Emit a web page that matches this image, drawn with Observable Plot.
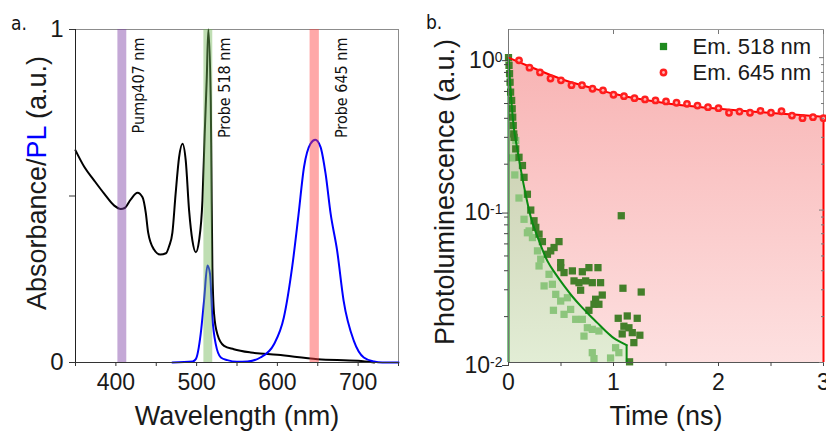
<!DOCTYPE html>
<html><head><meta charset="utf-8">
<script src="https://cdn.jsdelivr.net/npm/d3@7"></script>
<script src="https://cdn.jsdelivr.net/npm/@observablehq/plot@0.6"></script>
<style>
body{margin:0;background:#fff;}
#wrap{position:relative;width:826px;height:436px;overflow:hidden;background:#fff;}
#a{position:absolute;top:0;left:0;width:420px;height:436px;}
#b{position:absolute;top:0;left:420px;width:406px;height:436px;}
#a svg,#b svg{display:block;overflow:visible;}
.plabel{position:absolute;font-family:"Liberation Sans Narrow","DejaVu Sans Condensed",sans-serif;font-size:19px;color:#111;line-height:22px;}
</style></head><body>
<div id="wrap">
<div id="a"></div><div id="b"></div>
<div class="plabel" style="left:11px;top:12px">a.</div>
<div class="plabel" style="left:426px;top:11px">b.</div>
</div>
<script>
// ---------- Panel a data ----------
const absWavelength = [350, 361, 373, 385.5, 398, 406, 411, 418.5, 426.8, 433, 437, 440, 447, 455, 462, 466, 470, 474, 478.3, 482.5, 486.5, 490.7, 494.8, 499, 503, 507.2, 510, 512.5, 514.5, 517.5, 518.3, 519.5, 521.6, 525.7, 534, 546, 567, 600, 650, 700, 720];
const absorbance    = [0.637, 0.587, 0.547, 0.507, 0.471, 0.461, 0.464, 0.49, 0.51, 0.496, 0.45, 0.39, 0.34, 0.324, 0.328, 0.35, 0.39, 0.507, 0.617, 0.657, 0.607, 0.456, 0.366, 0.331, 0.366, 0.486, 0.687, 0.85, 1.0, 0.787, 0.587, 0.286, 0.146, 0.085, 0.050, 0.040, 0.030, 0.023, 0.010, 0.005, 0.0];
const plWavelength  = [470, 495, 499, 505, 509.2, 513.4, 516.6, 519.5, 523.7, 530, 538, 550, 563, 579, 595.8, 608, 618.5, 626, 633, 641, 647, 653.5, 659.7, 666, 674, 682, 694.7, 707, 719.5, 730, 750];
const plIntensity   = [0, 0.003, 0.01, 0.085, 0.186, 0.291, 0.266, 0.135, 0.055, 0.015, 0.007, 0.002, 0.003, 0.015, 0.055, 0.135, 0.29, 0.44, 0.587, 0.657, 0.669, 0.647, 0.567, 0.446, 0.336, 0.186, 0.065, 0.015, 0.003, 0, 0];
const bandStart = [402.5, 509, 640.5];
const bandEnd   = [413.5, 520, 652];
const bandNames = ["Pump407 nm", "Probe 518 nm", "Probe 645 nm"];
const xDomainA = [350, 750];
const yDomainA = [0, 1];
const xTicksA = [400, 500, 600, 700];
const xMinorA = [350, 450, 550, 650, 750];
const yTicksA = [0, 1];
const yMinorA = [0.5];
const xLabelA = "Wavelength (nm)";
const yLabelA = "Absorbance/PL (a.u.)";

// ---------- Panel b data ----------
const redT = [0.1,0.2,0.3,0.4,0.5,0.6,0.7,0.8,0.9,1.0,1.1,1.2,1.3,1.4,1.5,1.6,1.7,1.8,1.9,2.0,2.1,2.2,2.3,2.4,2.5,2.6,2.7,2.8,2.9,3.0];
const redV = [0.96,0.86,0.80,0.73,0.71,0.66,0.66,0.625,0.61,0.571,0.559,0.542,0.532,0.524,0.516,0.506,0.498,0.485,0.473,0.466,0.435,0.443,0.435,0.448,0.435,0.445,0.417,0.401,0.407,0.401];
const redFitT = [0,0.1,0.2,0.3,0.4,0.5,0.75,1,1.25,1.5,1.75,2,2.25,2.5,2.75,3];
const redFitV = [1.0,0.935,0.875,0.82,0.77,0.725,0.645,0.58,0.535,0.503,0.48,0.462,0.447,0.434,0.422,0.41];
const greenFitT = [0,0.01,0.025,0.05,0.08,0.117,0.165,0.212,0.29,0.37,0.45,0.53,0.61,0.687,0.77,0.846,0.92,1.0,1.06,1.125];
const greenFitV = [1.0,0.78,0.55,0.35,0.26,0.185,0.125,0.09,0.063,0.0464,0.038,0.0318,0.027,0.0235,0.0205,0.0182,0.0162,0.0145,0.0137,0.013];
const darkT = [0.0,0.005,0.01,0.015,0.02,0.03,0.035,0.04,0.045,0.05,0.053,0.069,0.10,0.133,0.148,0.18,0.212,0.26,0.243,0.291,0.323,0.371,0.402,0.434,0.481,0.497,0.497,0.529,0.608,0.703,0.766,0.852,0.624,0.671,0.735,0.798,0.877,0.687,0.893,0.83,0.814,0.861,0.766,1.074,1.09,1.264,1.045,1.131,1.226,1.099,1.147,1.083,1.179,1.251,1.194,1.153];
const darkV = [1.0,0.89,0.785,0.69,0.594,0.524,0.462,0.407,0.359,0.316,0.30,0.252,0.222,0.196,0.164,0.127,0.10,0.077,0.0851,0.0695,0.0621,0.0513,0.054,0.0568,0.0621,0.0452,0.0419,0.0389,0.0399,0.0394,0.0419,0.0419,0.0343,0.0334,0.0343,0.0334,0.0334,0.0298,0.0277,0.026,0.0241,0.0241,0.022,0.0918,0.0307,0.029,0.0195,0.0202,0.0195,0.0173,0.0169,0.0154,0.0157,0.0151,0.0135,0.0101];
const lightT = [0.04,0.06,0.069,0.1,0.148,0.18,0.196,0.228,0.276,0.291,0.307,0.339,0.386,0.418,0.428,0.45,0.497,0.529,0.561,0.592,0.64,0.703,0.719,0.751,0.798,0.861,0.798,0.814,0.972,1.02,1.051];
const lightV = [0.22,0.17,0.286,0.12,0.087,0.071,0.073,0.066,0.054,0.043,0.0476,0.0318,0.0379,0.0326,0.022,0.028,0.0253,0.0207,0.0266,0.0223,0.0192,0.0192,0.0149,0.0169,0.0165,0.0161,0.0116,0.0106,0.0107,0.0125,0.0116];
const xDomainB = [0, 3];
const yDomainB = [0.01, 1.53];
const xTicksB = [0, 1, 2, 3];
const xMinorB = [0.5, 1.5, 2.5];
const yTicksB = [0.01, 0.1, 1];
const yMinorB = [0.02,0.03,0.04,0.05,0.06,0.07,0.08,0.09,0.2,0.3,0.4,0.5,0.6,0.7,0.8,0.9];
const seriesNames = ["Em. 518 nm", "Em. 645 nm"];
const xLabelB = "Time (ns)";
const yLabelB = "Photoluminescence (a.u.)";

// ---------- build ----------
const font = '"Liberation Sans", Arial, sans-serif';
const narrow = '"Liberation Sans Narrow", "DejaVu Sans Condensed", sans-serif';
const baseStyle = {fontFamily: font, fontSize: "23px", color: "#1a1a1a", background: "transparent", overflow: "visible"};

const absData = absWavelength.map((w, i) => ({w, v: absorbance[i]}));
const plData = plWavelength.map((w, i) => ({w, v: plIntensity[i]}));
const bands = bandStart.map((s, i) => ({s, e: bandEnd[i], name: bandNames[i]}));
const bandFill = ["rgb(124,62,164)", "rgb(112,182,86)", "rgb(255,62,62)"];
const labelDx = [17, 17, 27];

const plotA = Plot.plot({
  width: 420, height: 436,
  marginLeft: 75, marginRight: 22, marginTop: 29, marginBottom: 74,
  style: baseStyle,
  x: {domain: xDomainA},
  y: {domain: yDomainA},
  marks: [
    Plot.frame({stroke: "#8c8c8c"}),
    Plot.line(absData, {x: "w", y: "v", stroke: "#000", strokeWidth: 2, curve: "monotone-x"}),
    Plot.line(plData, {x: "w", y: "v", stroke: "#0000ff", strokeWidth: 2, curve: "monotone-x"}),
    ...bands.map((b, i) => Plot.rect([b], {x1: "s", x2: "e", y1: () => yDomainA[0], y2: () => yDomainA[1], fill: bandFill[i], fillOpacity: 0.45})),
    ...bands.map((b, i) => Plot.text([b], {x: d => (d.s + d.e) / 2, y: () => yDomainA[1], text: "name", rotate: -90, textAnchor: "end", lineAnchor: "middle", dx: labelDx[i], dy: 8, fontSize: 16, fontFamily: narrow, fill: "#111"})),
    Plot.ruleY([yDomainA[0]], {stroke: "#333"}),
    Plot.ruleX([xDomainA[0]], {stroke: "#222"}),
    Plot.axisX(xTicksA, {tickSize: 4, tickPadding: 7, fontSize: 23, label: null, stroke: "#333"}),
    Plot.axisX(xMinorA, {tickSize: 4, tickFormat: () => "", label: null, stroke: "#333"}),
    Plot.axisY(yTicksA, {tickSize: 6, tickPadding: 6, fontSize: 24, label: null, stroke: "#333", tickFormat: d => String(d)}),
    Plot.axisY(yMinorA, {tickSize: 6, tickFormat: () => "", label: null, stroke: "#333"}),
    Plot.text([xLabelA], {frameAnchor: "bottom", dy: 54, fontSize: 27, textAnchor: "middle", lineAnchor: "middle", fill: "#1a1a1a"}),
    Plot.text([yLabelA], {frameAnchor: "left", rotate: -90, dx: -38, dy: -13, fontSize: 27, textAnchor: "middle", lineAnchor: "middle", fill: "#1a1a1a"})
  ]
});
document.getElementById("a").appendChild(plotA);

// color "PL" in blue
d3.select(plotA).selectAll("text").each(function() {
  if (this.textContent === yLabelA) {
    const t = d3.select(this);
    const [pre, post] = yLabelA.split("PL");
    t.text(null);
    t.append("tspan").text(pre);
    t.append("tspan").attr("fill", "#0000ff").text("PL");
    t.append("tspan").text(post);
  }
});

const red = redT.map((t, i) => ({t, v: redV[i]}));
const redFit = redFitT.map((t, i) => ({t, v: redFitV[i]}));
const greenFit = greenFitT.map((t, i) => ({t, v: greenFitV[i]}));
const dark = darkT.map((t, i) => ({t, v: darkV[i]}));
const light = lightT.map((t, i) => ({t, v: lightV[i]}));
const greenEdges = [greenFit[0], greenFit[greenFit.length - 1]];
const redEdge = [redFit[redFit.length - 1]];
const yMinB = () => yDomainB[0];

const plotB = Plot.plot({
  width: 406, height: 436,
  marginLeft: 88, marginRight: 3, marginTop: 29, marginBottom: 74,
  style: baseStyle,
  x: {domain: xDomainB},
  y: {type: "log", domain: yDomainB},
  marks: [
    Plot.areaY(redFit, {x: "t", y1: yMinB, y2: "v", fill: "url(#gradRed)", curve: "monotone-x"}),
    Plot.areaY(greenFit, {x: "t", y1: yMinB, y2: "v", fill: "url(#gradGreen)", curve: "monotone-x"}),
    Plot.frame({stroke: "#9a9a9a"}),
    Plot.dot(light, {x: "t", y: "v", symbol: "square", r: 4.1, fill: "#8cc57c"}),
    Plot.dot(dark, {x: "t", y: "v", symbol: "square", r: 4.1, fill: "#437f2a"}),
    Plot.line(greenFit, {x: "t", y: "v", stroke: "#0b8a12", strokeWidth: 2, curve: "monotone-x"}),
    Plot.ruleX(greenEdges, {x: "t", y1: yMinB, y2: "v", stroke: "#0b8a12", strokeWidth: 2}),
    Plot.line(redFit, {x: "t", y: "v", stroke: "#ff0000", strokeWidth: 2, curve: "monotone-x"}),
    Plot.ruleX(redEdge, {x: "t", y1: yMinB, y2: "v", stroke: "#ff0000", strokeWidth: 2}),
    Plot.dot(red, {x: "t", y: "v", r: 3.9, fill: "#ff1f1f"}),
    Plot.dot(red, {x: "t", y: "v", r: 1.4, fill: "#ffb3b3"}),
    Plot.ruleX([xDomainB[0]], {stroke: "#777"}),
    Plot.ruleY([yDomainB[0]], {stroke: "#555"}),
    Plot.axisX(xTicksB, {tickSize: 4, tickPadding: 7, fontSize: 23, label: null, stroke: "#444"}),
    Plot.axisX(xMinorB, {tickSize: 4, tickFormat: () => "", label: null, stroke: "#444"}),
    Plot.axisX(xTicksB, {anchor: "top", tickSize: -4, tickFormat: () => "", label: null, stroke: "#777"}),
    Plot.axisY(yTicksB, {tickSize: 6, tickPadding: 0, fontSize: 23, dy: 3, label: null, stroke: "#444", tickFormat: d => "10^" + Math.round(Math.log10(d))}),
    Plot.axisY(yMinorB, {tickSize: 4, tickFormat: () => "", label: null, stroke: "#444"}),
    Plot.axisY(yTicksB, {anchor: "right", tickSize: -5, tickFormat: () => "", label: null, stroke: "#777"}),
    Plot.axisY(yMinorB, {anchor: "right", tickSize: -3, tickFormat: () => "", label: null, stroke: "#777"}),
    // legend
    Plot.dot([seriesNames[0]], {frameAnchor: "top-right", dx: -160, dy: 17, symbol: "square", r: 4.1, fill: "#1f8a1f"}),
    Plot.dot([seriesNames[1]], {frameAnchor: "top-right", dx: -160, dy: 43, r: 3.9, fill: "#ff1f1f"}),
    Plot.dot([seriesNames[1]], {frameAnchor: "top-right", dx: -160, dy: 43, r: 1.4, fill: "#ffb3b3"}),
    Plot.text([seriesNames[0]], {frameAnchor: "top-right", dx: -131, dy: 17, textAnchor: "start", lineAnchor: "middle", fontSize: 22, fill: "#1a1a1a"}),
    Plot.text([seriesNames[1]], {frameAnchor: "top-right", dx: -131, dy: 43, textAnchor: "start", lineAnchor: "middle", fontSize: 22, fill: "#1a1a1a"}),
    Plot.text([xLabelB], {frameAnchor: "bottom", dy: 54, fontSize: 27, textAnchor: "middle", lineAnchor: "middle", fill: "#1a1a1a"}),
    Plot.text([yLabelB], {frameAnchor: "left", rotate: -90, dx: -63, dy: -4, fontSize: 27, textAnchor: "middle", lineAnchor: "middle", fill: "#1a1a1a"})
  ]
});
document.getElementById("b").appendChild(plotB);

// gradients for the filled areas
const defs = d3.select(plotB).insert("defs", ":first-child");
const gr = defs.append("linearGradient").attr("id", "gradRed").attr("x1", 0).attr("y1", 0).attr("x2", 0).attr("y2", 1);
gr.append("stop").attr("offset", "0%").attr("stop-color", "#f8b4b4");
gr.append("stop").attr("offset", "100%").attr("stop-color", "#fde0e0");
const gg = defs.append("linearGradient").attr("id", "gradGreen").attr("x1", 0).attr("y1", 0).attr("x2", 0).attr("y2", 1);
gg.append("stop").attr("offset", "0%").attr("stop-color", "#c4c6a6");
gg.append("stop").attr("offset", "100%").attr("stop-color", "#e2edd5");

// superscript exponents on log tick labels
d3.select(plotB).selectAll('g[aria-label="y-axis tick label"] text').each(function() {
  const s = this.textContent;
  if (!s.includes("^")) return;
  const [base, exp] = s.split("^");
  const t = d3.select(this);
  t.text(base);
  t.append("tspan").attr("dy", "-0.45em").attr("font-size", "14px").text(exp);
});
</script>
</body></html>
